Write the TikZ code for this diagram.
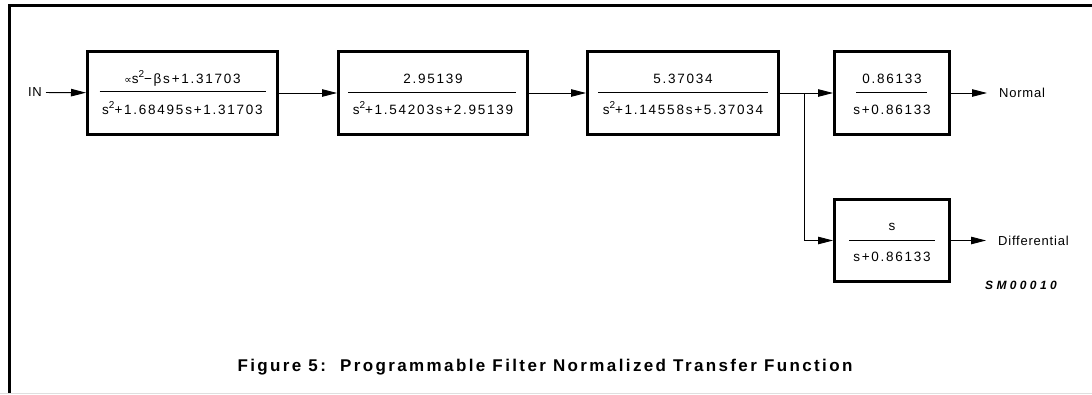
\documentclass[tikz,border=0pt]{standalone}
\usepackage{fontspec}
\setmainfont{Liberation Sans}
\newfontfamily\boxfont[LetterSpace=13]{Liberation Sans}
\newfontfamily\lblfont[LetterSpace=6]{Liberation Sans}
\newfontfamily\capfont[LetterSpace=14]{Liberation Sans}
\newfontfamily\codefont[LetterSpace=28]{Liberation Sans}
\newfontfamily\symfont{DejaVu Sans}
\newcommand{\sq}{\raisebox{0.42em}{\fontsize{10}{10}\selectfont 2}}
\usetikzlibrary{arrows.meta,calc}
\tikzset{
  blk/.style={draw, line width=3pt, inner sep=0pt},
  conn/.style={line width=0.9pt},
  arr/.style={conn, -{Triangle[length=15pt,width=7.5pt]}},
  txt/.style={font=\boxfont\fontsize{13.5}{15}\selectfont, inner sep=0pt},
  lbl/.style={font=\lblfont\fontsize{13}{15}\selectfont, inner sep=0pt},
  fracline/.style={line width=0.9pt},
}
\begin{document}
\begin{tikzpicture}[x=1pt,y=-1pt]
\useasboundingbox (0,0) rectangle (1092,394);
% frame
\draw[line width=3pt] (9.5,394) -- (9.5,5.5) -- (1092,5.5);
\draw[gray!25, line width=1pt] (0,393.5) -- (1092,393.5);

% blocks
\node[blk, minimum width=190pt, minimum height=83pt] (b1) at (182.5,93) {};
\node[blk, minimum width=189pt, minimum height=83pt] (b2) at (433,93) {};
\node[blk, minimum width=191pt, minimum height=83pt] (b3) at (683,93) {};
\node[blk, minimum width=115pt, minimum height=83pt] (b4) at (892,93) {};
\node[blk, minimum width=115pt, minimum height=82pt] (b5) at (892,240.5) {};

% fractions
\node[txt, anchor=base] (n1) at ($(b1.center)+(0,-10)$) {{\symfont\fontsize{10.5}{12}\selectfont ∝}s\sq−βs+1.31703};
\node[txt, anchor=base] (d1) at ($(b1.center)+(0,21)$) {s\sq+1.68495s+1.31703};
\draw[fracline] ($(b1.center)+(-83,-1.5)$) -- ($(b1.center)+(83,-1.5)$);

\node[txt, anchor=base] (n2) at ($(b2.center)+(0,-10)$) {2.95139};
\node[txt, anchor=base] (d2) at ($(b2.center)+(0,21)$) {s\sq+1.54203s+2.95139};
\draw[fracline] ($(b2.center)+(-85,-1)$) -- ($(b2.center)+(83,-1)$);

\node[txt, anchor=base] (n3) at ($(b3.center)+(0,-10)$) {5.37034};
\node[txt, anchor=base] (d3) at ($(b3.center)+(0,21)$) {s\sq+1.14558s+5.37034};
\draw[fracline] ($(b3.center)+(-85,-1)$) -- ($(b3.center)+(85,-1)$);

\node[txt, anchor=base] (n4) at ($(b4.center)+(0,-10)$) {0.86133};
\node[txt, anchor=base] (d4) at ($(b4.center)+(0,21)$) {s+0.86133};
\draw[fracline] ($(b4.center)+(-36,-1)$) -- ($(b4.center)+(35,-1)$);

\node[txt, anchor=base] (n5) at ($(b5.center)+(0,-10)$) {s};
\node[txt, anchor=base] (d5) at ($(b5.center)+(0,21)$) {s+0.86133};
\draw[fracline] ($(b5.center)+(-43,-0.5)$) -- ($(b5.center)+(43,-0.5)$);

% labels
\node[lbl, anchor=east, inner xsep=4pt] (in) at (46,92.5) {IN};
\node[lbl, anchor=west, inner xsep=12pt] (normal) at (987,93) {Normal};
\node[lbl, anchor=west, inner xsep=12pt] (diff) at (986,240.5) {Differential};
\coordinate (br) at (804,93);

% connectors
\draw[arr] (in) -- (b1);
\draw[arr] (b1) -- (b2);
\draw[arr] (b2) -- (b3);
\draw[arr] (b3) -- (b4);
\draw[arr] (br) |- (b5.west);
\draw[arr] (b4) -- (normal);
\draw[arr] (b5) -- (diff);

% code and caption
\node[font=\codefont\fontsize{12}{13}\selectfont\bfseries\itshape, anchor=west, inner sep=0pt] (code) at (985,285) {SM00010};
\node[font=\capfont\fontsize{17}{19}\selectfont\bfseries, inner sep=0pt, anchor=base] (cap) at (545,371) {Figure 5:\ \ Programmable Filter Normalized Transfer Function};
\end{tikzpicture}
\end{document}
